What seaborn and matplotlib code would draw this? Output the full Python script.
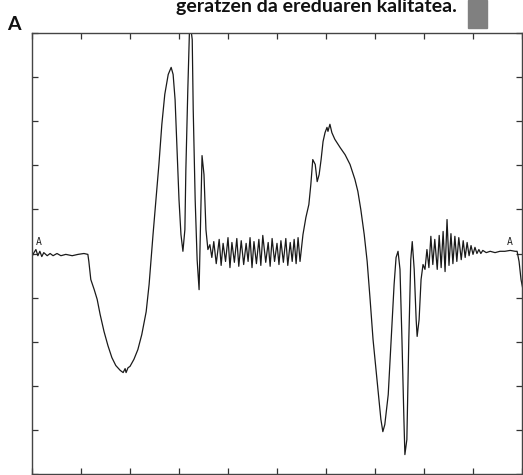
import numpy as np
import pandas as pd
import matplotlib
matplotlib.use('Agg')
import matplotlib.pyplot as plt
import seaborn as sns
from matplotlib.patches import Rectangle

# trace, x and y in grid divisions (10 x 10 grid, baseline at 0)
###############################################################################
t_start = [0.00, 0.04, 0.08, 0.12, 0.16, 0.20, 0.24, 0.31, 0.37, 0.43, 0.51, 0.59,
           0.69, 0.82, 0.94, 1.06, 1.14]
v_start = [-0.07, 0.02, 0.09, -0.05, 0.05, -0.07, 0.02, -0.05, 0.00, -0.05, 0.00, -0.05,
           -0.02, -0.05, -0.02, 0.00, -0.02]

t_wave1 = [1.16, 1.20, 1.27, 1.33, 1.39, 1.47, 1.55, 1.63, 1.71, 1.80, 1.86, 1.90,
           1.92, 1.96, 2.00, 2.08, 2.16, 2.24, 2.33, 2.39, 2.43, 2.47, 2.53, 2.59,
           2.65, 2.71, 2.78, 2.84, 2.88, 2.92, 2.96, 3.00, 3.04, 3.08, 3.12, 3.14,
           3.18, 3.22, 3.27, 3.29, 3.33, 3.37, 3.41, 3.43, 3.47, 3.51, 3.55, 3.59,
           3.63, 3.67]
v_wave1 = [-0.18, -0.59, -0.82, -1.04, -1.38, -1.77, -2.09, -2.36, -2.54, -2.65, -2.70, -2.61,
           -2.70, -2.59, -2.56, -2.40, -2.18, -1.84, -1.32, -0.70, -0.14, 0.43, 1.22, 2.02,
           2.93, 3.61, 4.06, 4.22, 4.06, 3.49, 2.36, 1.22, 0.43, 0.05, 0.54, 1.90,
           3.72, 5.31, 4.85, 3.27, 1.22, -0.14, -0.82, 0.20, 2.22, 1.79, 0.54, 0.09,
           0.20, -0.09]

t_ripple1 = [3.71, 3.76, 3.82, 3.86, 3.90, 3.95, 4.00, 4.04, 4.08, 4.13, 4.18, 4.22,
             4.27, 4.32, 4.37, 4.41, 4.45, 4.49, 4.53, 4.58, 4.63, 4.67, 4.71, 4.77,
             4.82, 4.86, 4.90, 4.95, 5.00, 5.04, 5.08, 5.13, 5.18, 5.22, 5.27, 5.31,
             5.35, 5.39, 5.43, 5.47]
v_ripple1 = [0.27, -0.23, 0.32, -0.27, 0.23, -0.18, 0.36, -0.32, 0.25, -0.20, 0.34, -0.29,
             0.29, -0.25, 0.23, -0.18, 0.36, -0.32, 0.27, -0.23, 0.32, -0.27, 0.41, -0.20,
             0.25, -0.29, 0.34, -0.18, 0.23, -0.25, 0.29, -0.20, 0.34, -0.27, 0.25, -0.18,
             0.32, -0.23, 0.36, -0.18]

t_wave2 = [5.53, 5.59, 5.65, 5.69, 5.73, 5.78, 5.82, 5.86, 5.90, 5.94, 5.98, 6.02,
           6.04, 6.08, 6.12, 6.18, 6.29, 6.39, 6.49, 6.59, 6.65, 6.71, 6.78, 6.84,
           6.90, 6.96, 7.02, 7.08, 7.12, 7.16, 7.20, 7.27, 7.33, 7.39, 7.43, 7.47,
           7.51, 7.55, 7.59, 7.61, 7.65, 7.69, 7.73, 7.76, 7.80, 7.84, 7.86, 7.90,
           7.94, 7.98, 8.02]
v_wave2 = [0.43, 0.82, 1.11, 1.56, 2.13, 2.02, 1.63, 1.79, 2.13, 2.54, 2.74, 2.86,
           2.77, 2.93, 2.74, 2.59, 2.40, 2.24, 2.02, 1.68, 1.41, 1.00, 0.43, -0.18,
           -1.04, -1.95, -2.63, -3.31, -3.76, -4.04, -3.88, -3.20, -1.95, -0.70, -0.09, 0.05,
           -0.36, -1.95, -3.76, -4.56, -4.22, -1.95, -0.14, 0.27, -0.36, -1.50, -1.88, -1.50,
           -0.59, -0.25, -0.36]

t_ripple2 = [8.06, 8.10, 8.14, 8.18, 8.22, 8.27, 8.31, 8.35, 8.39, 8.43, 8.47, 8.51,
             8.55, 8.59, 8.63, 8.67, 8.71, 8.76, 8.80, 8.84, 8.88, 8.92, 8.96, 9.00,
             9.04, 9.08, 9.12, 9.16, 9.20, 9.27, 9.35, 9.45, 9.55, 9.65, 9.76, 9.86,
             9.90, 9.94, 9.98, 10.02]
v_ripple2 = [0.09, -0.32, 0.39, -0.25, 0.32, -0.36, 0.41, -0.32, 0.50, -0.41, 0.77, -0.27,
             0.45, -0.23, 0.39, -0.18, 0.36, -0.14, 0.29, -0.09, 0.25, -0.05, 0.18, -0.02,
             0.14, 0.00, 0.09, 0.00, 0.07, 0.02, 0.05, 0.02, 0.05, 0.05, 0.07, 0.05,
             0.05, -0.18, -0.59, -0.82]

marker_t = [0.14, 9.76]
marker_labels = ['A', 'A']
grid_ticks = list(range(11))

###############################################################################
df = pd.DataFrame({'t': t_start + t_wave1 + t_ripple1 + t_wave2 + t_ripple2,
                   'v': v_start + v_wave1 + v_ripple1 + v_wave2 + v_ripple2})

sns.set_style('ticks')
plt.rcParams['font.family'] = ['Lato', 'DejaVu Sans']

fig = plt.figure(figsize=(5.23, 4.75), dpi=100)
ax = fig.add_axes([32/523, 1/475, 490/523, 441/475])

sns.lineplot(data=df, x='t', y='v', sort=False, estimator=None, color='#1a1a1a',
             linewidth=0.9, ax=ax)

for t, lab in zip(marker_t, marker_labels):
    ax.text(t, 0.14, lab, fontsize=7, family='DejaVu Sans Mono', ha='center',
            va='bottom', color='#222222')

ax.set_xlim(0, 10)
ax.set_ylim(-5, 5)
ax.set_xticks(grid_ticks)
ax.set_yticks([g - 5 for g in grid_ticks])
ax.set_xticklabels([])
ax.set_yticklabels([])
ax.set_xlabel('')
ax.set_ylabel('')
ax.tick_params(direction='in', top=True, right=True, length=4, width=0.9,
               colors='#333333')
for s in ax.spines.values():
    s.set_linewidth(1.0)
    s.set_color('#444444')

fig.text(7/523, 1 - 30/475, 'A', fontsize=14, fontweight='bold', ha='left',
         va='baseline', color='#111111')
fig.text(457/523, 1 - 12/475, 'geratzen da ereduaren kalitatea.', fontsize=14,
         fontweight='bold', ha='right', va='baseline', color='#111111')
fig.patches.append(Rectangle((468/523, 1 - 28/475), 19/523, 28/475,
                             transform=fig.transFigure, color='#808080', zorder=0))

fig.savefig('out.png', dpi=100)
